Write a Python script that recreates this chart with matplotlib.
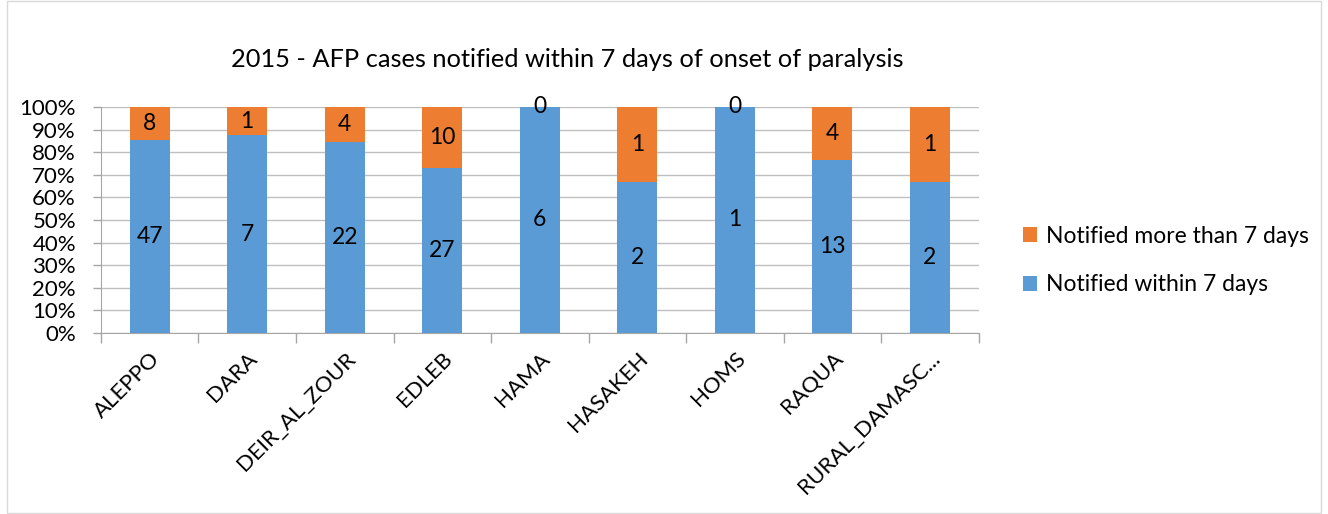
import numpy as np
import matplotlib.pyplot as plt
from matplotlib.patches import Rectangle

# dados
provincias = ['ALEPPO', 'DARA', 'DEIR_AL_ZOUR', 'EDLEB', 'HAMA',
              'HASAKEH', 'HOMS', 'RAQUA', 'RURAL_DAMASC...']
dentro_7 = [47, 7, 22, 27, 6, 2, 1, 13, 2]
mais_7 = [8, 1, 4, 10, 0, 1, 0, 4, 1]

plt.rcParams['font.family'] = ['Lato', 'DejaVu Sans']

dentro = np.array(dentro_7, dtype=float)
mais = np.array(mais_7, dtype=float)
total = dentro + mais
pct_dentro = dentro / total
pct_mais = mais / total

fig = plt.figure(figsize=(13.28, 5.14), dpi=100)
ax = fig.add_axes([0.076, 0.352, 0.661, 0.440])

x = np.arange(len(provincias))
b1 = ax.bar(x, pct_dentro, width=0.41, color='#5B9BD5', label='Notified within 7 days', zorder=3)
b2 = ax.bar(x, pct_mais, width=0.41, bottom=pct_dentro, color='#ED7D31',
            label='Notified more than 7 days', zorder=3)

ax.bar_label(b1, labels=[str(v) for v in dentro_7], label_type='center', fontsize=16.5)
ax.bar_label(b2, labels=[str(v) for v in mais_7], label_type='center', fontsize=16.5)

ax.set_xlim(-0.5, len(provincias) - 0.5)
ax.set_ylim(0, 1)
ax.set_yticks(np.arange(0, 1.01, 0.1))
ax.set_yticklabels([f'{int(round(v * 100))}%' for v in np.arange(0, 1.01, 0.1)], fontsize=16)
ax.yaxis.grid(True, color='#BFBFBF', linewidth=1, zorder=0)

ax.set_xticks(x)
ax.set_xticklabels(provincias, rotation=45, ha='right', rotation_mode='anchor', fontsize=16)
ax.tick_params(axis='x', which='major', length=0, pad=11)
ax.set_xticks(np.arange(-0.5, len(provincias), 1), minor=True)
ax.tick_params(axis='x', which='minor', length=7, color='#A6A6A6', width=1)
ax.tick_params(axis='y', length=6, color='#A6A6A6', width=1, pad=12)

for s in ['top', 'right']:
    ax.spines[s].set_visible(False)
for s in ['left', 'bottom']:
    ax.spines[s].set_color('#A6A6A6')

fig.text(0.4275, 0.885, '2015 - AFP cases notified within 7 days of onset of paralysis',
         ha='center', va='center', fontsize=18.3)

h, l = ax.get_legend_handles_labels()
fig.legend(h[::-1], l[::-1], loc='center left', bbox_to_anchor=(0.755, 0.493),
           frameon=False, fontsize=16.5, handlelength=0.6, handleheight=0.6,
           labelspacing=1.2, handletextpad=0.4)

fig.patches.append(Rectangle((0.005, 0.002), 0.99, 0.996, transform=fig.transFigure,
                             fill=False, edgecolor='#D9D9D9', linewidth=1))

plt.savefig('out.png', dpi=100)
